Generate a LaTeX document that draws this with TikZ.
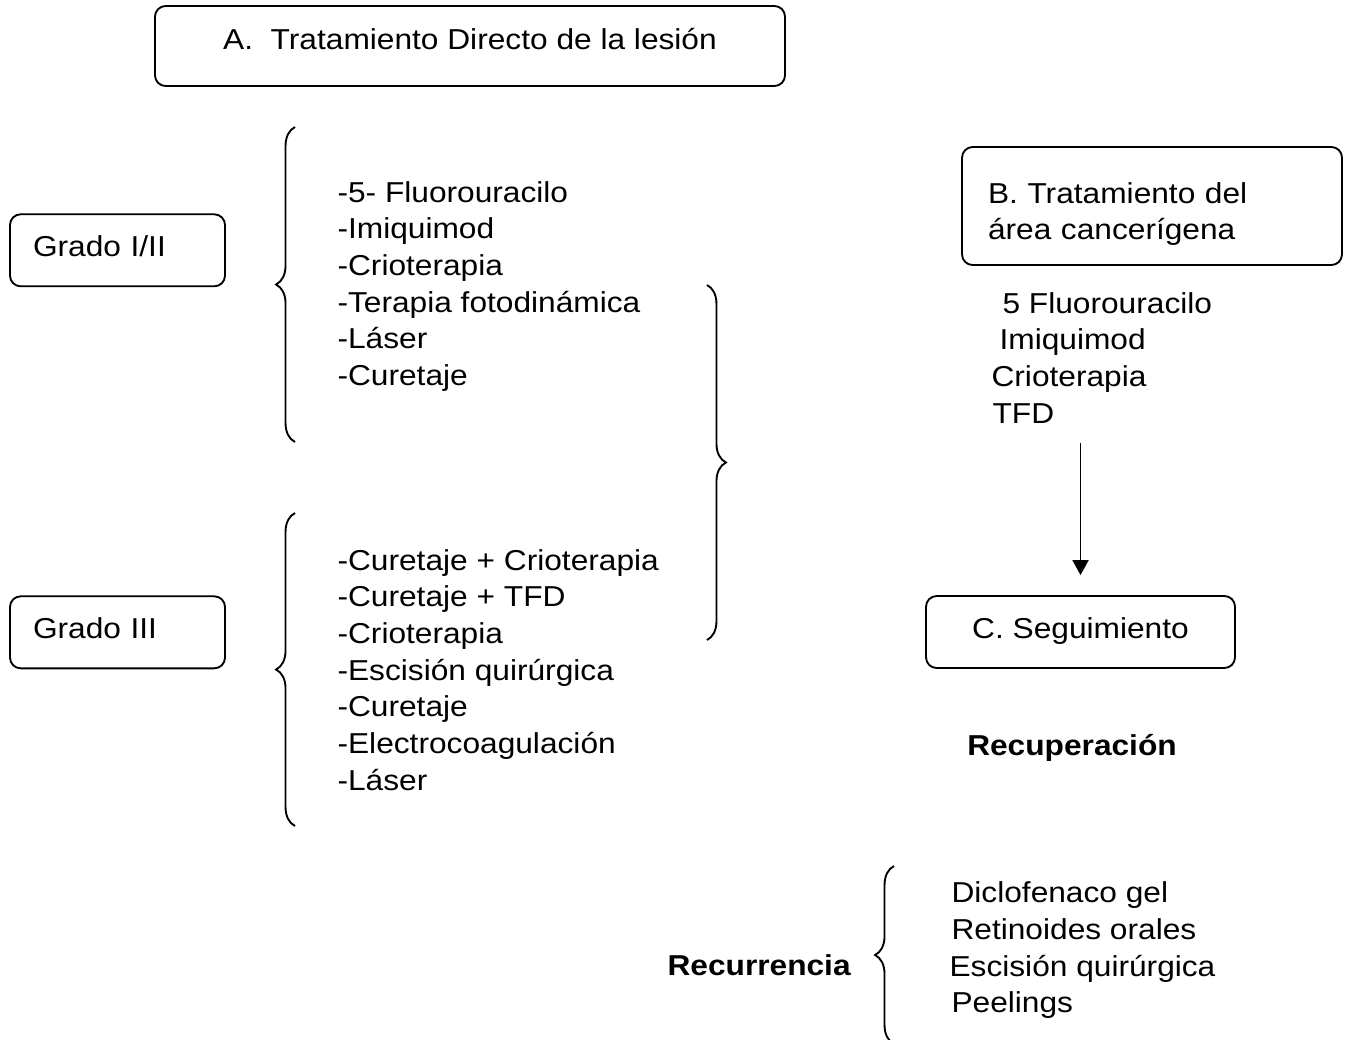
\documentclass[tikz,border=0pt]{standalone}
\usepackage{fontspec}
\setmainfont{Liberation Sans}[FakeStretch=1.1]
\usetikzlibrary{arrows.meta,decorations.pathreplacing}
\tikzset{>={Triangle[length=5.6pt,width=6pt]}}
\newcommand{\pxu}{0.375pt}
\tikzset{
  box/.style={draw,rounded corners=4pt,line width=0.7pt,inner sep=0pt},
  grade/.style={minimum width=215*\pxu,minimum height=72*\pxu,text width=169*\pxu,
    inner xsep=23*\pxu,align=left,text height=8pt,text depth=3.3pt},
  item/.style={anchor=base west,inner sep=0pt},
  brace/.style={decorate,decoration={brace,amplitude=7.1pt},line width=0.7pt},
}

\begin{document}
\begin{tikzpicture}[x=\pxu,y=-\pxu,font=\fontsize{10.8}{13.76}\selectfont]
  \useasboundingbox (0,0) rectangle (1346,1039);
  % A: direct treatment
  \node[box,minimum width=630*\pxu,minimum height=80*\pxu,text height=8pt,text depth=5.75pt]
    (A) at (470,46) {A.\ \ Tratamiento Directo de la lesión};
  % grades
  \node[box,grade] (g1) at (117.5,250.3) {Grado I/II};
  \node[box,grade] (g3) at (117.5,632.3) {Grado III};
  \draw[brace] (295,442) -- (295,127);
  \draw[brace] (295,826) -- (295,513);
  \foreach \t [count=\i] in {-5- Fluorouracilo,-Imiquimod,-Crioterapia,-Terapia fotodinámica,-Láser,-Curetaje}
    \node[item] (l1-\i) at (337,{202+36.7*(\i-1)}) {\t};
  \foreach \t [count=\i] in {-Curetaje + Crioterapia,-Curetaje + TFD,-Crioterapia,-Escisión quirúrgica,-Curetaje,-Electrocoagulación,-Láser}
    \node[item] (l3-\i) at (337,{570+36.7*(\i-1)}) {\t};
  \draw[brace] (707,285) -- (707,640);
  % B: cancer field
  \node[box,minimum width=380*\pxu,minimum height=118*\pxu,text width=328*\pxu,inner xsep=26*\pxu,
    align=left,text height=8pt,text depth=10.25pt] (B) at (1152,206) {B. Tratamiento del\\área cancerígena};
  \foreach \x/\t [count=\i] in {1002/5 Fluorouracilo,999/Imiquimod,991/Crioterapia,992/TFD}
    \node[item] (b\i) at (\x,{313+36.7*(\i-1)}) {\t};
  % C: follow-up
  \node[box,minimum width=309*\pxu,minimum height=72*\pxu,text height=8pt,text depth=3.3pt]
    (C) at (1080.5,632) {C. Seguimiento};
  \draw[->,line width=0.7pt,shorten <=7.1pt,shorten >=7.5pt] (b4.south -| C.north) -- (C.north);
  \node[item] (rec) at (966.7,755) {\bfseries Recuperación};
  % recurrence
  \node[item] (rcr) at (667,975) {\bfseries Recurrencia};
  \draw[brace] (894,1044) -- (894,866);
  \foreach \x/\t [count=\i] in {951/Diclofenaco gel,951/Retinoides orales,949/Escisión quirúrgica,951/Peelings}
    \node[item] (r\i) at (\x,{902.6+36.7*(\i-1)}) {\t};
\end{tikzpicture}
\end{document}
